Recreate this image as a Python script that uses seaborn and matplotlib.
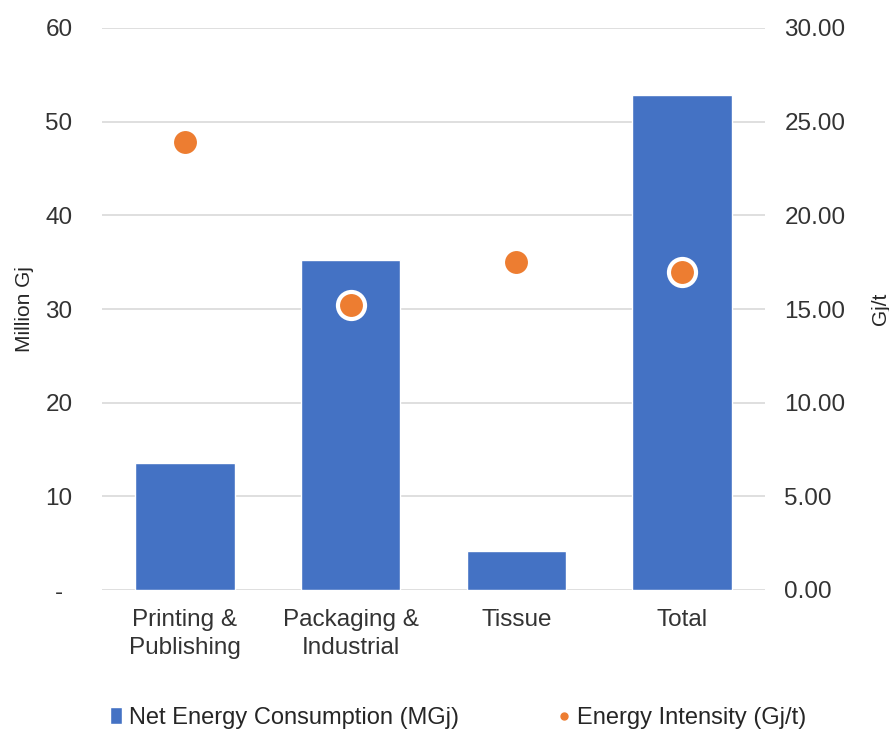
import matplotlib
matplotlib.use("Agg")
import matplotlib.pyplot as plt
import seaborn as sns
import pandas as pd
from matplotlib.lines import Line2D
from matplotlib.patches import Patch
from matplotlib.ticker import FuncFormatter

categories = ["Printing &\nPublishing", "Packaging &\nIndustrial", "Tissue", "Total"]
net_energy = [13.6, 35.2, 4.2, 52.9]
intensity = [23.9, 15.2, 17.5, 17.0]
left_ticks = [0, 10, 20, 30, 40, 50, 60]
right_ticks = [0, 5, 10, 15, 20, 25, 30]

sns.set_theme(style="white")
plt.rcParams['font.family'] = ['Liberation Sans', 'DejaVu Sans']

df = pd.DataFrame({"cat": categories, "net": net_energy, "int": intensity})

fig = plt.figure(figsize=(8.89, 7.32), dpi=100)
ax = fig.add_axes([102/889, 1-590/732, 663/889, 562/732])

sns.barplot(data=df, x="cat", y="net", color="#4472C4", saturation=1, width=0.6, ax=ax, zorder=2)
ax.set_ylim(0, 60)
ax.set_yticks(left_ticks)
ax.yaxis.set_major_formatter(FuncFormatter(lambda v, p: "-" if v == 0 else f"{v:.0f}"))
ax.grid(axis="y", color="#D9D9D9", linewidth=1.2, zorder=0)
ax.set_axisbelow(True)
for s in ax.spines.values():
    s.set_visible(False)
ax.set_xlabel("")
ax.set_ylabel("Million Gj", fontsize=15, color="#262626", labelpad=8)
ax.tick_params(axis="both", length=0, labelsize=17.5, colors="#333333")
ax.tick_params(axis="x", pad=14)
ax.tick_params(axis="y", pad=31)
for lbl in ax.get_yticklabels():
    lbl.set_horizontalalignment("center")
for lbl in ax.get_xticklabels():
    lbl.set_linespacing(1.3)
ax.set_xlim(-0.5, 3.5)

ax2 = ax.twinx()
sns.scatterplot(x=range(len(categories)), y=intensity, ax=ax2, color="#ED7D31", s=380,
                edgecolor="white", linewidth=3, zorder=3, legend=False)
ax2.set_ylim(0, 30)
ax2.set_yticks(right_ticks)
ax2.yaxis.set_major_formatter(FuncFormatter(lambda v, p: f"{v:.2f}"))
for s in ax2.spines.values():
    s.set_visible(False)
ax2.tick_params(axis="y", length=0, labelsize=17.5, colors="#333333", pad=14)
ax2.set_ylabel("Gj/t", fontsize=15, color="#262626", labelpad=18)
ax2.set_xlim(-0.5, 3.5)

handles = [Patch(facecolor="#4472C4", label="Net Energy Consumption (MGj)"),
           Line2D([], [], marker="o", linestyle="", color="#ED7D31", markersize=5,
                  label="Energy Intensity (Gj/t)")]
fig.legend(handles=handles, loc="center", bbox_to_anchor=(0.515, 1-718/732), ncol=2,
           frameon=False, fontsize=17, handlelength=0.5, handletextpad=0.3,
           columnspacing=4.2)

fig.savefig("out.png", dpi=100, facecolor="white")
